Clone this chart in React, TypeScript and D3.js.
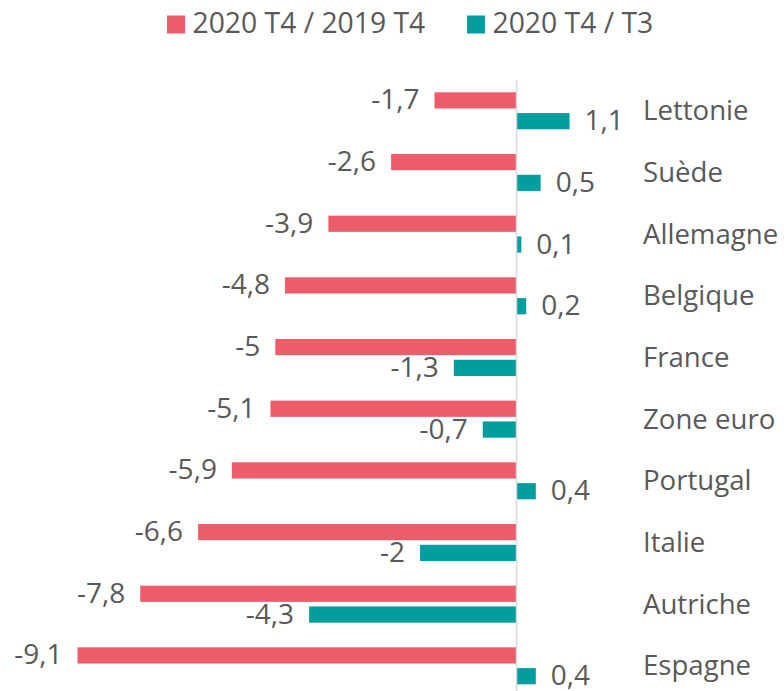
import React from "react";
import * as d3 from "d3";

const categories = ["Lettonie", "Suède", "Allemagne", "Belgique", "France", "Zone euro", "Portugal", "Italie", "Autriche", "Espagne"];
const seriesNames = ["2020 T4 / 2019 T4", "2020 T4 / T3"];
const yearOnYear = [-1.7, -2.6, -3.9, -4.8, -5, -5.1, -5.9, -6.6, -7.8, -9.1];
const quarterOnQuarter = [1.1, 0.5, 0.1, 0.2, -1.3, -0.7, 0.4, -2, -4.3, 0.4];
const colors = ["#ED5C6B", "#009E9F"];

const W = 784;
const H = 691;
const FONT = "'Open Sans', sans-serif";
const TEXT = "#595959";

export default function App() {
  const x = d3.scaleLinear().domain([-10, 2]).range([34.1, 613.0]);
  const y = d3.scaleBand<string>().domain(categories).range([80, 80 + 61.67 * 10]).padding(0);
  const inner = d3.scaleBand<string>().domain(seriesNames).range([12.3, 49.3]).paddingInner(0.22);
  const fmt = (v: number) => String(v).replace(".", ",");
  const series = [yearOnYear, quarterOnQuarter];

  return (
    <svg width={W} height={H} style={{ position: "absolute", left: 0, top: 0 }} fontFamily={FONT}>
      <rect x={0} y={0} width={W} height={H} fill="#fff" />
      {seriesNames.map((s, i) => {
        const lx = i === 0 ? 167 : 467;
        return (
          <g key={s}>
            <rect x={lx} y={15.5} width={18} height={18} fill={colors[i]} />
            <text x={lx + 25.5} y={33.3} fontSize={28.3} fill={TEXT}>{s}</text>
          </g>
        );
      })}
      {categories.map((c, ci) => (
        <g key={c}>
          {series.map((vals, si) => {
            const v = vals[ci];
            const by = (y(c) as number) + (inner(seriesNames[si]) as number);
            const bh = inner.bandwidth();
            const x0 = x(Math.min(0, v));
            const x1 = x(Math.max(0, v));
            const cy = by + bh / 2;
            return (
              <g key={si}>
                <rect x={x0} y={by} width={Math.max(0, x1 - x0)} height={bh} fill={colors[si]} />
                <text
                  x={v < 0 ? x0 - 15 : x1 + 15}
                  y={cy + 9}
                  fontSize={28}
                  fill={TEXT}
                  textAnchor={v < 0 ? "end" : "start"}
                >
                  {fmt(v)}
                </text>
              </g>
            );
          })}
          <text x={643} y={(y(c) as number) + y.bandwidth() / 2 + 9.6} fontSize={27.6} fill={TEXT}>
            {c}
          </text>
        </g>
      ))}
      <line x1={x(0)} x2={x(0)} y1={80} y2={H} stroke="#D9D9D9" strokeWidth={1.5} />
    </svg>
  );
}
